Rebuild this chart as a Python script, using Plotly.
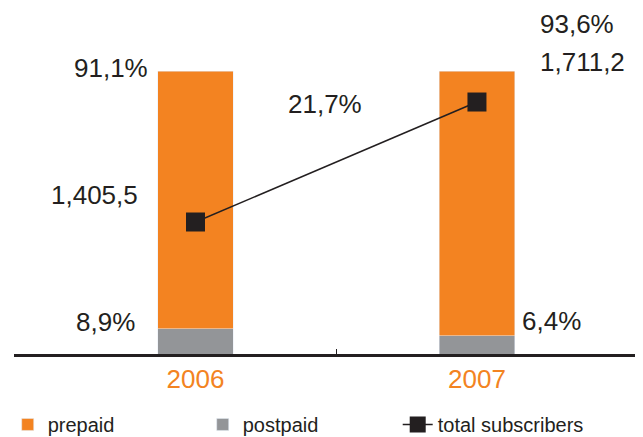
import plotly.graph_objects as go

years = ["2006", "2007"]
prepaid_pct = [91.1, 93.6]
postpaid_pct = [8.9, 6.4]
total_subs = [1405.5, 1711.2]
growth_label = "21,7%"

ORANGE = "#F38321"
GREY = "#939598"
INK = "#231F20"
FONT = "Liberation Sans"

x_pos = list(range(len(years)))

fig = go.Figure()
fig.add_trace(go.Bar(
    x=x_pos, y=postpaid_pct, name="postpaid", marker_color=GREY,
    width=0.267, legendrank=2,
))
fig.add_trace(go.Bar(
    x=x_pos, y=prepaid_pct, name="prepaid", marker_color=ORANGE,
    width=0.267, legendrank=1,
))
fig.add_trace(go.Scatter(
    x=x_pos, y=total_subs, name="total subscribers", yaxis="y2",
    mode="lines+markers",
    line=dict(color=INK, width=1.5),
    marker=dict(symbol="square", size=19, color=INK),
    legendrank=3,
))

def fmt(v):
    # 1405.5 -> "1,405,5"
    return f"{v:,.1f}".replace(".", ",")

def pct(v):
    return f"{v:.1f}%".replace(".", ",")

txt = dict(family=FONT, size=26, color=INK)
# label, x (data), y (fraction of plot height), anchor
notes = [
    (pct(prepaid_pct[0]), -0.162, 1.01, "right"),
    (fmt(total_subs[0]), -0.197, 0.562, "right"),
    (pct(postpaid_pct[0]), -0.208, 0.113, "right"),
    (growth_label, 0.46, 0.883, "center"),
    (pct(prepaid_pct[1]), 1.217, 1.166, "left"),
    (fmt(total_subs[1]), 1.217, 1.032, "left"),
    (pct(postpaid_pct[1]), 1.153, 0.117, "left"),
]
for text, x, y, anchor in notes:
    fig.add_annotation(
        text=text, x=x, y=y, xref="x", yref="paper",
        xanchor=anchor, yanchor="middle", showarrow=False, font=txt,
    )

# page body adds an 8px offset, so the figure is drawn 8px smaller
fig.update_layout(
    width=635, height=429,
    margin=dict(l=6, r=0, t=63, b=83, autoexpand=False),
    barmode="stack",
    plot_bgcolor="white",
    paper_bgcolor="white",
    font=dict(family=FONT, color=INK),
    showlegend=True,
    legend=dict(
        orientation="h", traceorder="normal",
        x=-0.01, y=-0.18, xanchor="left", yanchor="top",
        font=dict(family=FONT, size=20, color=INK),
        entrywidth=150, entrywidthmode="pixels",
    ),
    xaxis=dict(
        range=[-0.645, 1.59],
        tickvals=x_pos, ticktext=years,
        tickfont=dict(family=FONT, size=26, color=ORANGE),
        showgrid=False, zeroline=False,
        showline=True, linecolor=INK, linewidth=3,
        ticks="",
        minor=dict(tickvals=[0.5], ticks="inside", ticklen=5, tickcolor=INK, tickwidth=1),
    ),
    yaxis=dict(range=[0, 100], visible=False, fixedrange=True),
    yaxis2=dict(range=[1069.2, 1790.2], overlaying="y", visible=False),
)

fig.write_html("out.html")
